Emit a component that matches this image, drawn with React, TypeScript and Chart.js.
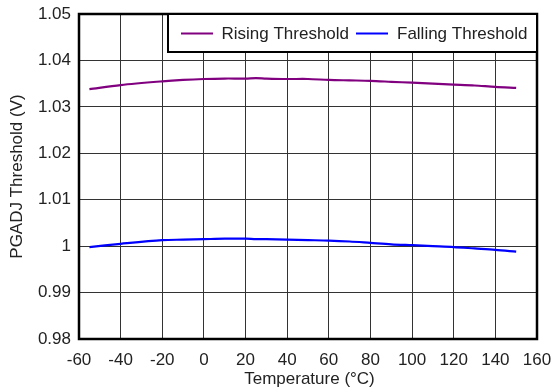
import React, { useEffect, useRef } from "react";
import { Chart, registerables } from "chart.js";

Chart.register(...registerables);

const temperatures = [-55, -40, -20, -10, 0, 10, 20, 25, 30, 40, 50, 60, 70, 80, 90, 100, 110, 120, 130, 140, 150];
const risingThreshold = [1.0338, 1.0347, 1.0355, 1.0358, 1.036, 1.0361, 1.0361, 1.0362, 1.0361, 1.036, 1.036, 1.0358, 1.0357, 1.0356, 1.0354, 1.0352, 1.035, 1.0348, 1.0346, 1.0343, 1.0341];
const fallingThreshold = [0.9998, 1.0005, 1.0013, 1.0014, 1.0015, 1.0016, 1.0016, 1.0015, 1.0015, 1.0014, 1.0013, 1.0012, 1.001, 1.0007, 1.0004, 1.0002, 1.0, 0.9998, 0.9995, 0.9992, 0.9988];
const seriesNames = ["Rising Threshold", "Falling Threshold"];
const seriesColors = ["#800080", "#0000ff"];
const xTitle = "Temperature (\u00B0C)";
const yTitle = "PGADJ Threshold (V)";

const FONT = "'Liberation Sans', Arial, Helvetica, sans-serif";

const overlayPlugin = {
  id: "overlay",
  afterDraw(chart: any) {
    const { ctx, chartArea } = chart;
    const { left, right, top, bottom } = chartArea;
    ctx.save();
    ctx.strokeStyle = "#000";
    ctx.lineWidth = 2.5;
    ctx.strokeRect(left, top, right - left, bottom - top);

    const lx = 168;
    const ly = top;
    const lw = right - lx;
    const lh = 38;
    ctx.fillStyle = "#fff";
    ctx.fillRect(lx, ly, lw, lh);
    ctx.lineWidth = 2;
    ctx.strokeRect(lx, ly, lw, lh);

    ctx.font = `17px ${FONT}`;
    ctx.textBaseline = "middle";
    ctx.textAlign = "left";
    const cy = ly + 19.5;
    const items = [
      { x: 181, tx: 221.5 },
      { x: 356, tx: 397 },
    ];
    items.forEach((it, i) => {
      ctx.strokeStyle = seriesColors[i];
      ctx.lineWidth = 2;
      ctx.beginPath();
      ctx.moveTo(it.x, cy);
      ctx.lineTo(it.x + 32, cy);
      ctx.stroke();
      ctx.fillStyle = "#222";
      ctx.fillText(seriesNames[i], it.tx, cy + 1);
    });

    ctx.fillStyle = "#222";
    ctx.textAlign = "center";
    ctx.fillText(xTitle, 309.5, 379);
    ctx.translate(17.5, (top + bottom) / 2);
    ctx.rotate(-Math.PI / 2);
    ctx.fillText(yTitle, 0, 0);
    ctx.restore();
  },
};

export default function App() {
  const canvasRef = useRef<HTMLCanvasElement | null>(null);

  useEffect(() => {
    const canvas = canvasRef.current;
    if (!canvas) return;
    const chart = new Chart(canvas, {
      type: "line",
      data: {
        datasets: [
          {
            label: seriesNames[0],
            data: temperatures.map((t, i) => ({ x: t, y: risingThreshold[i] })),
            borderColor: seriesColors[0],
            borderWidth: 2.2,
            pointRadius: 0,
            tension: 0.3,
            fill: false,
          },
          {
            label: seriesNames[1],
            data: temperatures.map((t, i) => ({ x: t, y: fallingThreshold[i] })),
            borderColor: seriesColors[1],
            borderWidth: 2.2,
            pointRadius: 0,
            tension: 0.3,
            fill: false,
          },
        ],
      },
      options: {
        responsive: false,
        animation: false,
        devicePixelRatio: 1,
        layout: { padding: { top: 14, right: 15, left: 0, bottom: 0 } },
        plugins: {
          legend: { display: false },
          tooltip: { enabled: false },
        },
        scales: {
          x: {
            type: "linear",
            min: -60,
            max: 160,
            afterFit: (s: any) => {
              s.height = 51;
              s.paddingLeft = 0;
              s.paddingRight = 0;
              s.paddingTop = 0;
              s.paddingBottom = 0;
            },
            ticks: {
              stepSize: 20,
              color: "#222",
              font: { family: FONT, size: 17 },
              padding: 11,
              maxRotation: 0,
            },
            grid: { color: "#333", lineWidth: 1, drawTicks: false },
            border: { display: false },
          },
          y: {
            type: "linear",
            min: 0.98,
            max: 1.05,
            afterFit: (s: any) => {
              s.width = 79;
              s.paddingLeft = 0;
              s.paddingRight = 0;
              s.paddingTop = 0;
              s.paddingBottom = 0;
            },
            ticks: {
              stepSize: 0.01,
              color: "#222",
              font: { family: FONT, size: 17 },
              padding: 8,
              callback: (v: any) => {
                const n = Math.round(Number(v) * 100) / 100;
                return String(n);
              },
            },
            grid: { color: "#333", lineWidth: 1, drawTicks: false },
            border: { display: false },
          },
        },
      },
      plugins: [overlayPlugin],
    });
    return () => chart.destroy();
  }, []);

  return (
    <div style={{ position: "fixed", left: 0, top: 0, width: 552, height: 390, background: "#fff" }}>
      <canvas ref={canvasRef} width={552} height={390} style={{ width: 552, height: 390, display: "block" }} />
    </div>
  );
}
